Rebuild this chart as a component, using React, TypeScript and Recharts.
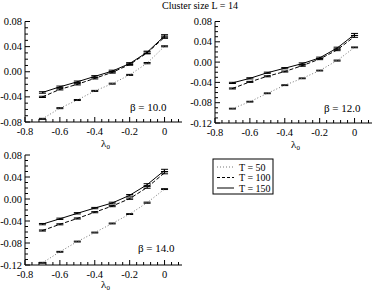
import { ErrorBar, Line, LineChart, XAxis, YAxis } from "recharts";

const FONT = "'Liberation Serif', 'DejaVu Serif', serif";

// lambda_0 values shared by every panel
const lambda0 = [-0.7, -0.6, -0.5, -0.4, -0.3, -0.2, -0.1, 0];

// beta = 10.0
const b10T50 = [-0.075, -0.058, -0.045, -0.0305, -0.019, -0.005, 0.0137, 0.0405];
const b10T100 = [-0.04, -0.028, -0.02, -0.0105, -0.001, 0.0115, 0.03, 0.055];
const b10T150 = [-0.033, -0.024, -0.016, -0.0074, 0.001, 0.013, 0.031, 0.057];

// beta = 12.0
const b12T50 = [-0.0917, -0.078, -0.0615, -0.0455, -0.032, -0.0167, 0.003, 0.029];
const b12T100 = [-0.052, -0.039, -0.028, -0.0186, -0.007, 0.006, 0.024, 0.0506];
const b12T150 = [-0.041, -0.032, -0.021, -0.012, -0.003, 0.0083, 0.0276, 0.0545];

// beta = 14.0
const b14T50 = [-0.116, -0.096, -0.0774, -0.061, -0.0445, -0.0274, -0.0067, 0.018];
const b14T100 = [-0.0573, -0.046, -0.0354, -0.024, -0.0128, 0.0006, 0.021, 0.0476];
const b14T150 = [-0.0457, -0.036, -0.026, -0.0165, -0.0073, 0.0067, 0.026, 0.052];

// error estimates (same size in each panel)
const err50 = [0.0008, 0.0008, 0.0008, 0.0008, 0.0008, 0.0008, 0.001, 0.0008];
const err100 = [0.001, 0.001, 0.001, 0.001, 0.0012, 0.0012, 0.0015, 0.0018];
const err150 = [0.0012, 0.0012, 0.0012, 0.0012, 0.0015, 0.0015, 0.0018, 0.002];

// axis ticks
const xMajor = [-0.8, -0.6, -0.4, -0.2, 0];
const yMajorSmall = [-0.08, -0.04, 0, 0.04, 0.08];
const yMajorLarge = [-0.12, -0.08, -0.04, 0, 0.04, 0.08];

const legendLabels = ["T = 50", "T = 100", "T = 150"];

type Row = {
  lambda: number;
  t50: number;
  t100: number;
  t150: number;
  e50: number;
  e100: number;
  e150: number;
};

const buildRows = (t50: number[], t100: number[], t150: number[]): Row[] =>
  lambda0.map((l, i) => ({
    lambda: l,
    t50: t50[i],
    t100: t100[i],
    t150: t150[i],
    e50: err50[i],
    e100: err100[i],
    e150: err150[i],
  }));

// major ticks plus evenly spaced minor ticks in between
const withMinor = (majors: number[], parts: number, max: number) => {
  const out: number[] = [];
  const step = majors[1] - majors[0];
  const all = [...majors, majors[majors.length - 1] + step];
  for (let i = 0; i < all.length - 1; i++) {
    for (let k = 0; k < parts; k++) {
      const v = +(all[i] + (step * k) / parts).toFixed(4);
      if (v <= max + 1e-9) out.push(v);
    }
  }
  return out;
};

const isMajor = (v: number, majors: number[]) =>
  majors.some((m) => Math.abs(m - v) < 1e-6);

const fmtX = (v: number) => (Math.abs(v) < 1e-9 ? "0" : v.toFixed(1));
const fmtY = (v: number) => (Math.abs(v) < 1e-9 ? "0.00" : v.toFixed(2));

const xTicks = withMinor(xMajor, 5, 0.1);

const BottomTick = (p: any) => {
  const { x, y, payload } = p;
  const major = isMajor(payload.value, xMajor);
  return (
    <g>
      <line x1={x} x2={x} y1={y} y2={y - (major ? 5 : 3)} stroke="#000" strokeWidth={1} />
      {major && (
        <text x={x} y={y + 13} textAnchor="middle" fontSize={10.5} fontFamily={FONT} fill="#000">
          {fmtX(payload.value)}
        </text>
      )}
    </g>
  );
};

const TopTick = (p: any) => {
  const { x, y, payload } = p;
  const major = isMajor(payload.value, xMajor);
  return <line x1={x} x2={x} y1={y} y2={y + (major ? 5 : 3)} stroke="#000" strokeWidth={1} />;
};

const makeLeftTick = (majors: number[]) => (p: any) => {
  const { x, y, payload } = p;
  const major = isMajor(payload.value, majors);
  return (
    <g>
      <line x1={x} x2={x + (major ? 5 : 3)} y1={y} y2={y} stroke="#000" strokeWidth={1} />
      {major && (
        <text x={x - 3} y={y + 3.5} textAnchor="end" fontSize={10.5} fontFamily={FONT} fill="#000">
          {fmtY(payload.value)}
        </text>
      )}
    </g>
  );
};

const makeRightTick = (majors: number[]) => (p: any) => {
  const { x, y, payload } = p;
  const major = isMajor(payload.value, majors);
  return <line x1={x} x2={x - (major ? 5 : 3)} y1={y} y2={y} stroke="#000" strokeWidth={1} />;
};

const makeLambdaLabel = (offset: number) => (p: any) => {
  const vb = p.viewBox;
  return (
    <text
      x={vb.x + vb.width / 2 + 2}
      y={vb.y + offset}
      textAnchor="middle"
      fontSize={11}
      fontFamily={FONT}
      fill="#000"
    >
      λ
      <tspan fontSize={7} dy={1.5}>
        0
      </tspan>
    </text>
  );
};

type PanelProps = {
  rows: Row[];
  yMajor: number[];
  beta: string;
  left: number;
  top: number;
  width: number;
  height: number;
  marginTop: number;
  marginRight: number;
  betaX: number;
  betaY: number;
  labelOffset: number;
};

const Panel = ({
  rows,
  yMajor,
  beta,
  left,
  top,
  width,
  height,
  marginTop,
  marginRight,
  betaX,
  betaY,
  labelOffset,
}: PanelProps) => {
  const yDomain: [number, number] = [yMajor[0], yMajor[yMajor.length - 1]];
  const yTicks = withMinor(yMajor, 4, yDomain[1]);
  const axisLine = { stroke: "#000", strokeWidth: 1 };
  const LambdaLabel = makeLambdaLabel(labelOffset);
  return (
    <div style={{ position: "absolute", left, top, width, height }}>
      <LineChart
        width={width}
        height={height}
        data={rows}
        margin={{ top: marginTop, right: marginRight, bottom: 0, left: 0 }}
      >
        <XAxis
          xAxisId="b"
          dataKey="lambda"
          type="number"
          domain={[-0.8, 0.1]}
          ticks={xTicks}
          interval={0}
          height={34}
          tickSize={0}
          tickMargin={0}
          tickLine={false}
          axisLine={axisLine}
          tick={BottomTick}
          label={<LambdaLabel />}
        />
        <XAxis
          xAxisId="t"
          orientation="top"
          type="number"
          domain={[-0.8, 0.1]}
          ticks={xTicks}
          interval={0}
          height={0}
          tickSize={0}
          tickMargin={0}
          tickLine={false}
          axisLine={axisLine}
          tick={TopTick}
        />
        <YAxis
          yAxisId="l"
          type="number"
          domain={yDomain}
          ticks={yTicks}
          interval={0}
          width={25}
          tickSize={0}
          tickMargin={0}
          tickLine={false}
          axisLine={axisLine}
          tick={makeLeftTick(yMajor)}
        />
        <YAxis
          yAxisId="r"
          orientation="right"
          type="number"
          domain={yDomain}
          ticks={yTicks}
          interval={0}
          width={0}
          tickSize={0}
          tickMargin={0}
          tickLine={false}
          axisLine={axisLine}
          tick={makeRightTick(yMajor)}
        />
        <Line
          xAxisId="b"
          yAxisId="l"
          dataKey="t50"
          stroke="#777"
          strokeWidth={1}
          strokeDasharray="1 2"
          dot={false}
          isAnimationActive={false}
        >
          <ErrorBar dataKey="e50" width={3.5} stroke="#000" strokeWidth={1} direction="y" />
        </Line>
        <Line
          xAxisId="b"
          yAxisId="l"
          dataKey="t100"
          stroke="#000"
          strokeWidth={1}
          strokeDasharray="4 2"
          dot={false}
          isAnimationActive={false}
        >
          <ErrorBar dataKey="e100" width={3.5} stroke="#000" strokeWidth={1} direction="y" />
        </Line>
        <Line
          xAxisId="b"
          yAxisId="l"
          dataKey="t150"
          stroke="#000"
          strokeWidth={1}
          dot={false}
          isAnimationActive={false}
        >
          <ErrorBar dataKey="e150" width={3.5} stroke="#000" strokeWidth={1} direction="y" />
        </Line>
      </LineChart>
      <div
        style={{
          position: "absolute",
          left: betaX,
          top: betaY,
          fontFamily: FONT,
          fontSize: 11,
          lineHeight: "12px",
          whiteSpace: "nowrap",
        }}
      >
        {beta}
      </div>
    </div>
  );
};

const Legend = () => {
  const dashes = ["1 2", "3 2", undefined];
  const colors = ["#777", "#000", "#000"];
  return (
    <svg
      width={62}
      height={37}
      style={{ position: "absolute", left: 212, top: 158 }}
    >
      <rect x={1} y={1} width={60} height={35} fill="#fff" stroke="#000" strokeWidth={1} />
      {legendLabels.map((label, i) => (
        <g key={label}>
          <line
            x1={5}
            x2={22}
            y1={9 + i * 10.5}
            y2={9 + i * 10.5}
            stroke={colors[i]}
            strokeWidth={1}
            strokeDasharray={dashes[i]}
          />
          <text x={27} y={12.5 + i * 10.5} fontSize={10} fontFamily={FONT} fill="#000">
            {label}
          </text>
        </g>
      ))}
    </svg>
  );
};

export default function App() {
  return (
    <div
      style={{
        position: "absolute",
        left: 0,
        top: 0,
        width: 374,
        height: 292,
        overflow: "hidden",
        background: "#fff",
      }}
    >
      <div
        style={{
          position: "absolute",
          left: 0,
          width: 400,
          top: 0,
          textAlign: "center",
          fontFamily: FONT,
          fontSize: 10,
          lineHeight: "11px",
        }}
      >
        Cluster size L = 14
      </div>
      <Panel
        rows={buildRows(b10T50, b10T100, b10T150)}
        yMajor={yMajorSmall}
        beta="β = 10.0"
        left={0}
        top={0}
        width={190}
        height={156}
        marginTop={21.5}
        marginRight={8}
        betaX={130}
        betaY={101}
        labelOffset={25}
      />
      <Panel
        rows={buildRows(b12T50, b12T100, b12T150)}
        yMajor={yMajorLarge}
        beta="β = 12.0"
        left={190}
        top={0}
        width={184}
        height={157}
        marginTop={21.5}
        marginRight={2}
        betaX={134}
        betaY={102}
        labelOffset={25}
      />
      <Panel
        rows={buildRows(b14T50, b14T100, b14T150)}
        yMajor={yMajorLarge}
        beta="β = 14.0"
        left={0}
        top={140}
        width={190}
        height={159}
        marginTop={15}
        marginRight={8}
        betaX={138}
        betaY={102}
        labelOffset={23}
      />
      <Legend />
    </div>
  );
}
